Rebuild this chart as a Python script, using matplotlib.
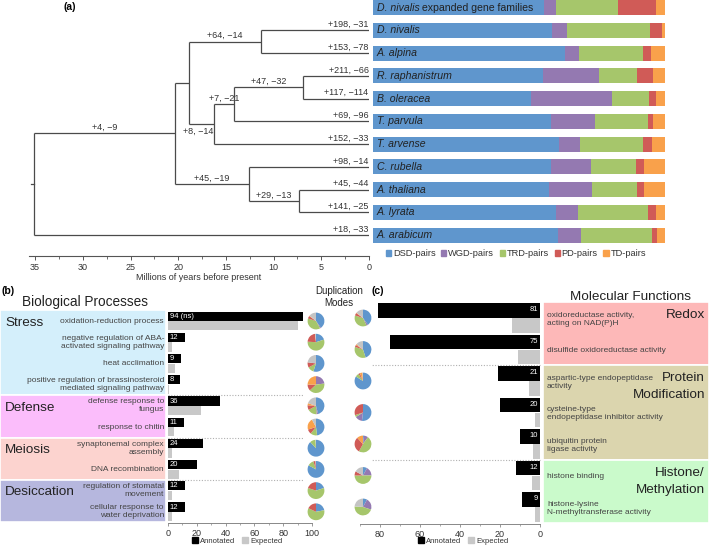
import numpy as np
import matplotlib
matplotlib.use('Agg')
import matplotlib.pyplot as plt
from matplotlib.patches import Patch, Rectangle
from matplotlib.ticker import MultipleLocator

plt.rcParams['font.family'] = ['Liberation Sans', 'DejaVu Sans']

# ---------------- data ----------------
modes = ['DSD-pairs', 'WGD-pairs', 'TRD-pairs', 'PD-pairs', 'TD-pairs']
mode_colors = ['#5f96cd', '#9479b1', '#a6c66b', '#d05b57', '#f9a14b']
other_color = '#c4c4c4'

bar_labels = ['D. nivalis expanded gene families', 'D. nivalis', 'A. alpina',
              'R. raphanistrum', 'B. oleracea', 'T. parvula', 'T. arvense',
              'C. rubella', 'A. thaliana', 'A. lyrata', 'A. arabicum']
dsd = [58.6, 61.4, 65.9, 58.3, 54.1, 60.8, 63.8, 61.1, 60.3, 62.5, 63.2]
wgd = [3.9, 4.9, 4.8, 19.1, 27.7, 15.2, 7.2, 13.6, 14.7, 7.7, 8.1]
trd = [21.5, 28.3, 21.6, 12.9, 12.8, 18.3, 21.7, 15.2, 15.2, 24.1, 24.2]
pdp = [12.9, 4.2, 3.0, 5.5, 2.4, 1.5, 2.9, 3.0, 2.6, 2.5, 1.7]
tdp = [3.1, 1.1, 4.7, 4.2, 3.1, 4.2, 4.5, 7.1, 7.1, 3.2, 2.7]

# tree: leaves are the species rows 1..10
leaf_changes = ['+198, \u221231', '+153, \u221278', '+211, \u221266', '+117, \u2212114',
                '+69, \u221296', '+152, \u221233', '+98, \u221214', '+45, \u221244',
                '+141, \u221225', '+18, \u221233']
# internal node: name, children, age (Myr), gain/loss on the branch leading to it
nodes = [
    ('N1', ['D. nivalis', 'A. alpina'], 11.3, '+64, \u221214'),
    ('N2', ['R. raphanistrum', 'B. oleracea'], 6.9, '+47, \u221232'),
    ('N3', ['N2', 'T. parvula'], 14.1, '+7, \u221221'),
    ('N4', ['N3', 'T. arvense'], 16.2, '+8, \u221214'),
    ('N5', ['N1', 'N4'], 18.9, ''),
    ('N7', ['A. thaliana', 'A. lyrata'], 7.3, '+29, \u221213'),
    ('N6', ['C. rubella', 'N7'], 12.6, '+45, \u221219'),
    ('N8', ['N5', 'N6'], 20.3, '+4, \u22129'),
    ('root', ['N8', 'A. arabicum'], 35.1, ''),
]

bp_terms = ['oxidation-reduction process',
            'negative regulation of ABA-\nactivated signaling pathway',
            'heat acclimation',
            'positive regulation of brassinosteroid\nmediated signaling pathway',
            'defense response to\nfungus', 'response to chitin',
            'synaptonemal complex\nassembly', 'DNA recombination',
            'regulation of stomatal\nmovement',
            'cellular response to\nwater deprivation']
bp_annotated = [94, 12, 9, 8, 36, 11, 24, 20, 12, 12]
bp_value_text = ['94 (ns)', '12', '9', '8', '36', '11', '24', '20', '12', '12']
bp_expected = [90, 3, 5, 0.7, 23, 4, 3, 7.5, 3, 3]
bp_groups = ['Stress', 'Defense', 'Meiosis', 'Desiccation']
bp_group_sizes = [4, 2, 2, 2]
bp_group_colors = ['#d4effb', '#fbbdfb', '#fcd3cf', '#b6b7de']
# duplication modes: DSD, WGD, TRD, PD, TD, other
bp_pies = [[40, 2, 38, 5, 1, 14], [20, 0, 56, 22, 0, 2], [55, 0, 12, 10, 0, 23],
           [0, 23, 40, 12, 25, 0], [46, 3, 18, 9, 4, 20], [48, 0, 13, 9, 22, 8],
           [88, 0, 11, 0, 0, 1], [83, 0, 12, 4, 0, 1], [20, 0, 60, 20, 0, 0],
           [22, 0, 60, 18, 0, 0]]

mf_terms = ['oxidoreductase activity,\nacting on NAD(P)H',
            'disulfide oxidoreductase activity',
            'aspartic-type endopeptidase\nactivity',
            'cysteine-type\nendopeptidase inhibitor activity',
            'ubiquitin protein\nligase activity', 'histone binding',
            'histone-lysine\nN-methyltransferase activity']
mf_annotated = [81, 75, 21, 20, 10, 12, 9]
mf_expected = [14, 11, 5.5, 2.5, 3.5, 4, 2.5]
mf_groups = ['Redox', 'Protein\nModification', 'Histone/\nMethylation']
mf_group_sizes = [2, 3, 2]
mf_group_colors = ['#fdb8b8', '#dbd5ae', '#cafacb']
mf_pies = [[40, 3, 37, 5, 1, 14], [45, 0, 35, 4, 2, 14], [84, 0, 7, 3, 5, 1],
           [52, 14, 4, 30, 0, 0], [2, 8, 48, 30, 12, 0], [8, 17, 50, 8, 0, 17],
           [8, 22, 46, 0, 0, 24]]

# ---------------- figure ----------------
W, H = 709, 549
fig = plt.figure(figsize=(W / 100, H / 100), dpi=100)


def px_axes(left, top, width, height):
    return fig.add_axes([left / W, 1 - (top + height) / H, width / W, height / H])


tc = '#333333'
lc = '#4a4a4a'

# ---- (a) tree ----
axt = px_axes(29, 0, 340, 256)
axt.set_xlim(35.64, 0)
axt.set_ylim(10.923, -0.33)
pos = {}
for i, name in enumerate(bar_labels[1:]):
    pos[name] = (0.0, i + 1)
parent = {}
for name, kids, age, lab in nodes:
    ys = [pos[k][1] for k in kids]
    axt.plot([age, age], [min(ys), max(ys)], color=lc, lw=0.9, solid_capstyle='butt')
    for k in kids:
        axt.plot([age, pos[k][0]], [pos[k][1]] * 2, color=lc, lw=0.9, solid_capstyle='butt')
        parent[k] = age
    pos[name] = (age, np.mean(ys))
root_x, root_y = pos['root']
axt.plot([root_x, root_x + 0.35], [root_y, root_y], color=lc, lw=0.9)
for name, kids, age, lab in nodes:
    if not lab:
        continue
    xm = (parent[name] + age) / 2
    y = pos[name][1]
    if name == 'N4':
        axt.text(xm + 0.4, y + 0.12, lab, ha='center', va='top', fontsize=6.5, color=tc)
    else:
        axt.text(xm, y - 0.06, lab, ha='center', va='bottom', fontsize=6.5, color=tc)
for i, lab in enumerate(leaf_changes):
    axt.text(0.05, i + 1 - 0.06, lab, ha='right', va='bottom', fontsize=6.5, color=tc)
for s in ['top', 'left', 'right']:
    axt.spines[s].set_visible(False)
axt.spines['bottom'].set_color('#555555')
axt.spines['bottom'].set_linewidth(0.8)
axt.set_yticks([])
axt.xaxis.set_major_locator(MultipleLocator(5))
axt.xaxis.set_minor_locator(MultipleLocator(2.5))
axt.tick_params(axis='x', which='major', length=3, width=0.7, color='#555555',
                labelsize=6.5, labelcolor=tc, pad=2)
axt.tick_params(axis='x', which='minor', length=2, width=0.6, color='#555555')
axt.set_xlabel('Millions of years before present', fontsize=6.5, color=tc, labelpad=1)
axt.patch.set_visible(False)

# ---- (a) stacked bars ----
axb = px_axes(373, 0, 292, 246)
rows = np.arange(len(bar_labels))
comp = np.array([dsd, wgd, trd, pdp, tdp])
comp = comp / comp.sum(axis=0) * 100
left = np.zeros(len(bar_labels))
for k in range(5):
    axb.barh(rows, comp[k], left=left, height=0.66, color=mode_colors[k], lw=0)
    left += comp[k]
axb.set_xlim(0, 100)
axb.set_ylim(10.48, -0.33)
axb.axis('off')
for i, lab in enumerate(bar_labels):
    if i == 0:
        t = axb.text(1.2, i, 'D. nivalis', style='italic', ha='left', va='center',
                     fontsize=7.6, color='#222222')
        axb.annotate(' expanded gene families', xy=(1, 0), xycoords=t, ha='left',
                     va='bottom', fontsize=7.6, color='#222222')
    else:
        axb.text(1.2, i, lab, style='italic', ha='left', va='center', fontsize=7.6,
                 color='#222222')
fig.legend([Patch(color=c) for c in mode_colors], modes, loc='center',
           bbox_to_anchor=(516 / W, 1 - 254 / H), ncol=5, frameon=False,
           fontsize=6.7, handlelength=0.55, handleheight=0.55, handletextpad=0.2,
           columnspacing=0.6, labelcolor=tc, borderpad=0, borderaxespad=0)

fig.text(64 / W, 1 - 7 / H, '(a)', fontsize=7.5, weight='bold', va='center')
fig.text(1 / W, 1 - 291 / H, '(b)', fontsize=7.5, weight='bold', va='center')
fig.text(372 / W, 1 - 291 / H, '(c)', fontsize=7.5, weight='bold', va='center')

# ---- (b) biological processes ----
nb = len(bp_terms)
ylim_b = (9.528, -0.519)
axbl = px_axes(0, 310, 166, 213)
axbl.set_xlim(0, 166)
axbl.set_ylim(*ylim_b)
axbl.axis('off')
start = 0
for g, n, c in zip(bp_groups, bp_group_sizes, bp_group_colors):
    axbl.add_patch(Rectangle((0, start - 0.5), 166, n, facecolor=c, edgecolor='white',
                             lw=1.2, clip_on=False))
    axbl.text(5, start + 0.08, g, ha='left', va='center', fontsize=9.7, color='#222222')
    start += n
for i, term in enumerate(bp_terms):
    axbl.text(164, i, term, ha='right', va='center', fontsize=6, color='#444444',
              linespacing=1.15)
fig.text(22 / W, 1 - 302 / H, 'Biological Processes', fontsize=9.8, color='#222222',
         va='center')

axbb = px_axes(168, 310, 144, 213)
ri = np.arange(nb)
axbb.barh(ri - 0.225, bp_annotated, height=0.43, color='black', lw=0)
axbb.barh(ri + 0.225, bp_expected, height=0.43, color='#c8c8c8', lw=0)
for i, s in enumerate(bp_value_text):
    axbb.text(1.2, i - 0.225, s, ha='left', va='center', fontsize=5.5, color='white')
start = 0
for n in bp_group_sizes[:-1]:
    start += n
    axbb.plot([0, 94], [start - 0.5] * 2, color='#b0b0b0', lw=0.8, ls=(0, (1, 1.5)),
              clip_on=False)
axbb.set_xlim(0, 100)
axbb.set_ylim(*ylim_b)
for s in ['top', 'left', 'right']:
    axbb.spines[s].set_visible(False)
axbb.spines['bottom'].set_color('#888888')
axbb.spines['bottom'].set_linewidth(0.7)
axbb.set_yticks([])
axbb.xaxis.set_major_locator(MultipleLocator(20))
axbb.xaxis.set_minor_locator(MultipleLocator(10))
axbb.tick_params(axis='x', which='major', length=2.5, width=0.6, color='#888888',
                 labelsize=6.5, labelcolor=tc, pad=2)
axbb.tick_params(axis='x', which='minor', length=1.5, width=0.5, color='#888888')
axbb.patch.set_visible(False)
fig.legend([Patch(color='black'), Patch(color='#c8c8c8')], ['Annotated', 'Expected'],
           loc='center', bbox_to_anchor=(237 / W, 1 - 541 / H), ncol=2, frameon=False,
           fontsize=5.5, handlelength=0.8, handleheight=0.8, handletextpad=0.3,
           columnspacing=0.8, labelcolor=tc, borderpad=0, borderaxespad=0)

fig.text(339 / W, 1 - 297 / H, 'Duplication\nModes', fontsize=7, color='#222222',
         ha='center', va='center', linespacing=1.15)

pie_colors = mode_colors + [other_color]
r = 10.5


def draw_pie(cx, cy_disp, vals):
    a = fig.add_axes([(cx - r) / W, (cy_disp - r) / H, 2 * r / W, 2 * r / H])
    v = np.array(vals, dtype=float)
    keep = v > 0
    a.pie(v[keep], colors=[c for c, k in zip(pie_colors, keep) if k], startangle=90,
          counterclock=False, wedgeprops=dict(lw=0))
    a.set_aspect('equal')
    a.axis('off')


for i, vals in enumerate(bp_pies):
    cy = axbb.transData.transform((0, i))[1]
    draw_pie(316, cy, vals)

# ---- (c) molecular functions ----
nm = len(mf_terms)
ylim_c = (6.54, -0.508)
axcb = px_axes(360, 302, 180, 222)
rc = np.arange(nm)
axcb.barh(rc - 0.24, mf_annotated, height=0.47, color='black', lw=0)
axcb.barh(rc + 0.24, mf_expected, height=0.46, color='#c8c8c8', lw=0)
for i, v in enumerate(mf_annotated):
    axcb.text(1.0, i - 0.26, str(v), ha='right', va='center', fontsize=5.5, color='white')
start = 0
for n in mf_group_sizes[:-1]:
    start += n
    axcb.plot([0, 84], [start - 0.5] * 2, color='#b0b0b0', lw=0.8, ls=(0, (1, 1.5)),
              clip_on=False)
axcb.set_xlim(90, 0)
axcb.set_ylim(*ylim_c)
for s in ['top', 'left', 'right']:
    axcb.spines[s].set_visible(False)
axcb.spines['bottom'].set_color('#888888')
axcb.spines['bottom'].set_linewidth(0.7)
axcb.set_yticks([])
axcb.set_xticks([80, 60, 40, 20, 0])
axcb.xaxis.set_minor_locator(MultipleLocator(10))
axcb.tick_params(axis='x', which='major', length=2.5, width=0.6, color='#888888',
                 labelsize=6.5, labelcolor=tc, pad=2)
axcb.tick_params(axis='x', which='minor', length=1.5, width=0.5, color='#888888')
axcb.patch.set_visible(False)
fig.legend([Patch(color='black'), Patch(color='#c8c8c8')], ['Annotated', 'Expected'],
           loc='center', bbox_to_anchor=(463 / W, 1 - 541 / H), ncol=2, frameon=False,
           fontsize=5.5, handlelength=0.8, handleheight=0.8, handletextpad=0.3,
           columnspacing=0.8, labelcolor=tc, borderpad=0, borderaxespad=0)

axcl = px_axes(543, 302, 166, 222)
axcl.set_xlim(0, 166)
axcl.set_ylim(*ylim_c)
axcl.axis('off')
start = 0
for g, n, c in zip(mf_groups, mf_group_sizes, mf_group_colors):
    axcl.add_patch(Rectangle((0, start - 0.5), 166, n, facecolor=c, edgecolor='white',
                             lw=1.2, clip_on=False))
    # each line of the group name drawn on its own
    for j, line in enumerate(g.split('\n')):
        axcl.text(162, start - 0.08 + 0.53 * j, line, ha='right', va='center',
                  fontsize=9.7, color='#222222')
    start += n
for i, term in enumerate(mf_terms):
    axcl.text(4, i + 0.04, term, ha='left', va='center', fontsize=6, color='#444444',
              linespacing=1.15)
fig.text(630 / W, 1 - 297 / H, 'Molecular Functions', fontsize=9.7, color='#222222',
         ha='center', va='center')

for i, vals in enumerate(mf_pies):
    cy = axcb.transData.transform((0, i))[1]
    draw_pie(363, cy, vals)

fig.savefig('out.png', dpi=100)
